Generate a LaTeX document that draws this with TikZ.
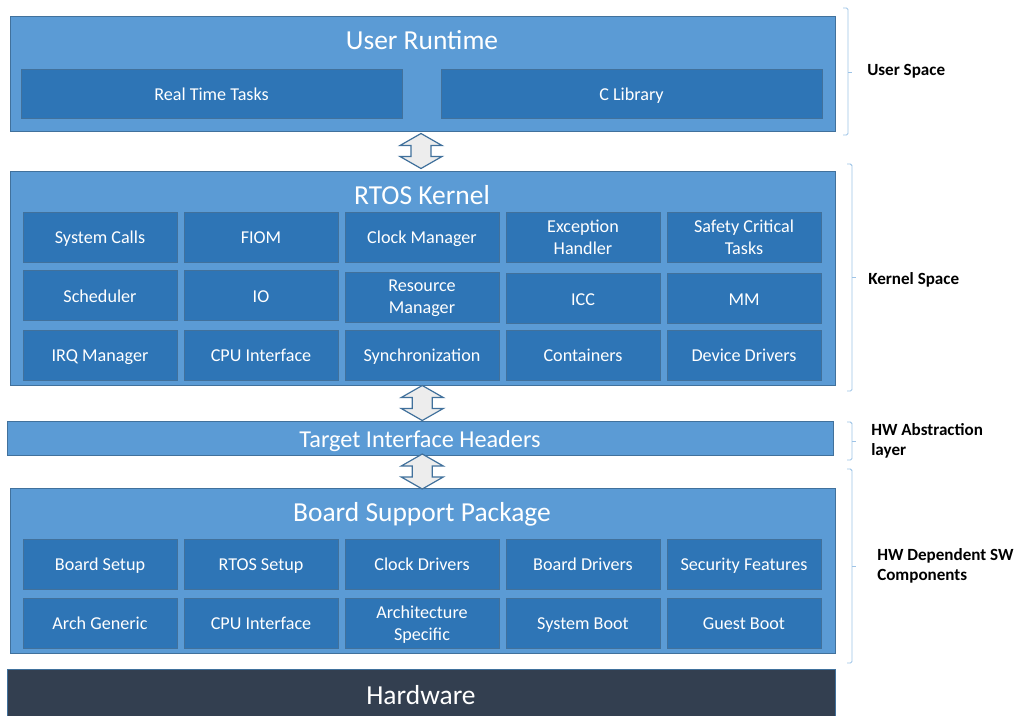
\documentclass[tikz,border=0pt]{standalone}
\usepackage{fontspec}
\setmainfont{Carlito}
\usetikzlibrary{calc}

\definecolor{layerfill}{HTML}{5B9BD5}
\definecolor{layerline}{HTML}{41719C}
\definecolor{partfill}{HTML}{2E75B6}
\definecolor{hwfill}{HTML}{333F50}
\definecolor{arrowfill}{HTML}{EDEDED}
\definecolor{bracecol}{HTML}{9DC3E6}

\tikzset{
  layer/.style={draw=layerline, fill=layerfill, line width=0.75pt, rectangle, inner sep=0pt},
  part/.style={draw=layerline, fill=partfill, line width=0.6pt, rectangle, inner sep=0pt,
               text=white, font=\fontsize{13.6}{16.5}\selectfont, align=center,
               text height=13.7pt, text depth=3.4pt,
               minimum width=115.5pt, minimum height=37.5pt},
  two/.style={text height=, text depth=0.4pt},
  wide/.style={part, minimum width=285.75pt, minimum height=36.75pt},
  ttl/.style={text=white, font=\fontsize{20.6}{24}\selectfont, inner sep=0pt,
              text height=19.7pt, text depth=4.9pt},
  side/.style={anchor=west, font=\bfseries\fontsize{12.8}{15}\selectfont, align=left, inner sep=0pt},
  brk/.style={draw=bracecol, line width=0.7pt, rounded corners=1.2pt},
  updown/.pic={
    \draw[draw=layerline, fill=arrowfill, line width=0.9pt, line join=miter]
      (0,-17.5) -- (21,-5.5) -- (10,-5.5) -- (10,5.5) -- (21,5.5) -- (0,17.5)
      -- (-21,5.5) -- (-10,5.5) -- (-10,-5.5) -- (-21,-5.5) -- cycle;
  }
}

% right-hand bracket: x of open end, x of spine, top, bottom, middle
\newcommand{\sidebrace}[5]{%
  \draw[brk] (#1,#3) -- (#2,#3) -- (#2,#4) -- (#1,#4);
  \draw[brk] (#2,#5) -- ($(#2,#5)+(4,0)$);
}

\begin{document}
\begin{tikzpicture}[x=0.75pt, y=-0.75pt]
\useasboundingbox (0,0) rectangle (1016,715);

% ---------- User runtime layer ----------
\node[layer, minimum width=618.75pt, minimum height=86.25pt] (user) at (422.5,73.5) {};
\node[ttl] (usert) at (422,40) {User Runtime};
\node[wide] (rtt)  at (211.5,93.5) {Real Time Tasks};
\node[wide] (clib) at (631.5,93.5) {C Library};

% ---------- Kernel layer ----------
\node[layer, minimum width=618.75pt, minimum height=160.5pt] (rtk) at (422.5,278) {};
\node[ttl] (rtkt) at (422,195) {RTOS Kernel};

\node[part] (k11) at (100,237) {System Calls};
\node[part] (k12) at (261,237) {FIOM};
\node[part] (k13) at (422,237) {Clock Manager};
\node[part, two] (k14) at (583,237) {Exception\\Handler};
\node[part, two] (k15) at (744,237) {Safety Critical\\Tasks};

\node[part] (k21) at (100,295.5) {Scheduler};
\node[part] (k22) at (261,295.5) {IO};
\node[part, two] (k23) at (422,297) {Resource\\Manager};
\node[part] (k24) at (583,298.5) {ICC};
\node[part] (k25) at (744,298.5) {MM};

\node[part] (k31) at (100,355) {IRQ Manager};
\node[part] (k32) at (261,355) {CPU Interface};
\node[part] (k33) at (422,355) {Synchronization};
\node[part] (k34) at (583,355) {Containers};
\node[part] (k35) at (744,355) {Device Drivers};

% ---------- Hardware abstraction layer ----------
\node[layer, minimum width=619.5pt, minimum height=25.5pt, text=white,
      text height=18.2pt, text depth=4.5pt,
      font=\fontsize{18.2}{20}\selectfont] (tih) at (420,438) {Target Interface Headers};

% ---------- Board support package ----------
\node[layer, minimum width=618.75pt, minimum height=123.75pt] (bsp) at (422.5,570.5) {};
\node[ttl] (bspt) at (422,512) {Board Support Package};

\node[part] (b11) at (100,564) {Board Setup};
\node[part] (b12) at (261,564) {RTOS Setup};
\node[part] (b13) at (422,564) {Clock Drivers};
\node[part] (b14) at (583,564) {Board Drivers};
\node[part] (b15) at (744,564) {Security Features};

\node[part] (b21) at (100,623) {Arch Generic};
\node[part] (b22) at (261,623) {CPU Interface};
\node[part, two] (b23) at (422,623) {Architecture\\Specific};
\node[part] (b24) at (583,623) {System Boot};
\node[part] (b25) at (744,623) {Guest Boot};

% ---------- Hardware (runs past the lower edge) ----------
\begin{scope}
\clip (0,0) rectangle (1016,715);
\node[draw=layerline, fill=hwfill, line width=0.75pt, inner sep=0pt,
      minimum width=621pt, minimum height=45pt] (hw) at (421,699) {};
\end{scope}
\node[ttl] (hwt) at (421,695) {Hardware};

% ---------- Two-way arrows between layers ----------
\coordinate (a1) at ($(user.south)!0.5!(rtk.north)$);
\coordinate (a2) at ($(rtk.south)!0.5!(tih.north)$);
\coordinate (a3) at ($(tih.south)!0.5!(bsp.north)$);
\pic at ($(a1)+(-1.5,0)$) {updown};
\pic at ($(a2)+(1,0)$) {updown};
\pic at ($(a3)+(1,0)$) {updown};

% ---------- Side brackets and their labels ----------
\sidebrace{843}{848}{8}{135}{72}
\sidebrace{847}{852}{164}{391}{277}
\sidebrace{847}{852}{422}{460}{441}
\sidebrace{847}{852}{469}{663}{566}

\node[side] (lus)  at (867,71.5)  {User Space};
\node[side] (lks)  at (868,279.5) {Kernel Space};
\node[side] (lhwa) at (871,441)   {HW Abstraction\\layer};
\node[side] (lhwd) at (877,565.5) {HW Dependent SW\\Components};
\end{tikzpicture}
\end{document}
